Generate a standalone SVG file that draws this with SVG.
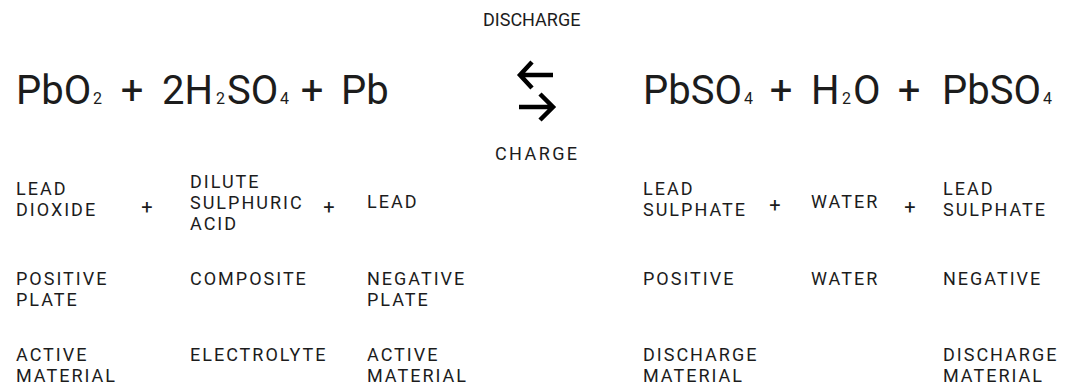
<svg xmlns="http://www.w3.org/2000/svg" width="1081" height="385" viewBox="0 0 1081 385">
<style>
text{font-family:Roboto,"Liberation Sans",sans-serif;fill:#1c1c1c}
.f{font-size:40px}
.s{font-size:16px}
.p{font-size:40px}
.l{font-size:18px;letter-spacing:2px}
.pl{font-size:20px}
.t{font-size:18px}
.c{font-size:18px;letter-spacing:2.4px}
.a{fill:none;stroke:#000;stroke-width:4.5;stroke-linejoin:miter;stroke-linecap:butt}
</style>
<rect width="1081" height="385" fill="#fff"/>
<g id="eq-left">
<text class="f" y="104"><tspan x="16">PbO</tspan><tspan class="s" x="93">2</tspan></text>
<text class="p" x="132" y="104" text-anchor="middle">+</text>
<text class="f" y="104"><tspan x="162">2H</tspan><tspan class="s" x="216">2</tspan><tspan x="227">SO</tspan><tspan class="s" x="280">4</tspan></text>
<text class="p" x="312" y="104" text-anchor="middle">+</text>
<text class="f" x="341" y="104">Pb</text>
</g>
<g id="eq-right">
<text class="f" y="104"><tspan x="643">PbSO</tspan><tspan class="s" x="744">4</tspan></text>
<text class="p" x="781" y="104" text-anchor="middle">+</text>
<text class="f" y="104"><tspan x="811">H</tspan><tspan class="s" x="842">2</tspan><tspan x="853">O</tspan></text>
<text class="p" x="909" y="104" text-anchor="middle">+</text>
<text class="f" y="104"><tspan x="942">PbSO</tspan><tspan class="s" x="1043">4</tspan></text>
</g>
<g id="discharge-label"><text class="t" x="483" y="26">DISCHARGE</text></g>
<g id="charge-label"><text class="c" x="495" y="160">CHARGE</text></g>
<g id="connectors">
<path class="a" d="M553 75H520M532 62L520 75L532 88"/>
<path class="a" d="M519 107H552M540 94L553 107L540 120"/>
</g>
<g id="lead-dioxide"><text class="l" x="16" y="195">LEAD<tspan x="16" dy="21">DIOXIDE</tspan></text></g>
<g id="plus-1"><text class="pl" x="147" y="214" text-anchor="middle">+</text></g>
<g id="dilute-sulphuric-acid"><text class="l" x="190" y="188">DILUTE<tspan x="190" dy="21">SULPHURIC</tspan><tspan x="190" dy="21">ACID</tspan></text></g>
<g id="plus-2"><text class="pl" x="329" y="214" text-anchor="middle">+</text></g>
<g id="lead"><text class="l" x="367" y="208">LEAD</text></g>
<g id="lead-sulphate-1"><text class="l" x="643" y="195">LEAD<tspan x="643" dy="21">SULPHATE</tspan></text></g>
<g id="plus-3"><text class="pl" x="775" y="212" text-anchor="middle">+</text></g>
<g id="water"><text class="l" x="811" y="208">WATER</text></g>
<g id="plus-4"><text class="pl" x="910" y="214" text-anchor="middle">+</text></g>
<g id="lead-sulphate-2"><text class="l" x="943" y="195">LEAD<tspan x="943" dy="21">SULPHATE</tspan></text></g>
<g id="positive-plate"><text class="l" x="16" y="285">POSITIVE<tspan x="16" dy="21">PLATE</tspan></text></g>
<g id="composite"><text class="l" x="190" y="285">COMPOSITE</text></g>
<g id="negative-plate"><text class="l" x="367" y="285">NEGATIVE<tspan x="367" dy="21">PLATE</tspan></text></g>
<g id="positive"><text class="l" x="643" y="285">POSITIVE</text></g>
<g id="water-2"><text class="l" x="811" y="285">WATER</text></g>
<g id="negative"><text class="l" x="943" y="285">NEGATIVE</text></g>
<g id="active-material-1"><text class="l" x="16" y="361">ACTIVE<tspan x="16" dy="21">MATERIAL</tspan></text></g>
<g id="electrolyte"><text class="l" x="190" y="361">ELECTROLYTE</text></g>
<g id="active-material-2"><text class="l" x="367" y="361">ACTIVE<tspan x="367" dy="21">MATERIAL</tspan></text></g>
<g id="discharge-material-1"><text class="l" x="643" y="361">DISCHARGE<tspan x="643" dy="21">MATERIAL</tspan></text></g>
<g id="discharge-material-2"><text class="l" x="943" y="361">DISCHARGE<tspan x="943" dy="21">MATERIAL</tspan></text></g>
</svg>
